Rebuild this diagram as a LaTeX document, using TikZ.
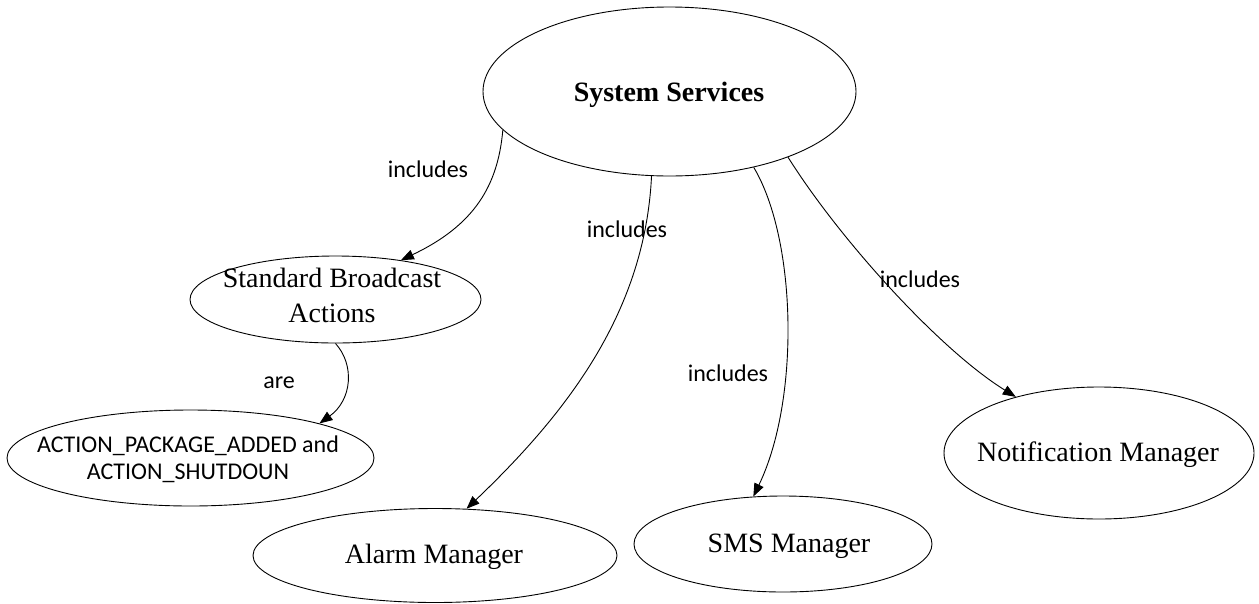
\documentclass[tikz,border=0pt]{standalone}
\usepackage{fontspec}
\setmainfont{Liberation Serif}
\newfontfamily\labelfont{Carlito}
\usetikzlibrary{shapes.geometric,arrows.meta}

\tikzset{
  oval/.style={draw, line width=0.9pt, ellipse, inner sep=0pt},
  title/.style={font=\fontsize{28}{35}\selectfont, inner sep=0pt, anchor=base, align=center},
  edgetext/.style={font=\labelfont\fontsize{24}{27}\selectfont, inner sep=0pt, anchor=base, align=center},
  link/.style={line width=0.9pt, -{Triangle[length=13pt,width=10pt]}},
}

\begin{document}
\begin{tikzpicture}[x=1pt,y=-1pt]
  \useasboundingbox (0,0) rectangle (1259,603);

  % ovals
  \node[oval, minimum width=373pt, minimum height=169pt] (sys)   at (669.5,91.5) {};
  \node[oval, minimum width=291pt, minimum height=87pt]  (sba)   at (335.5,299.5) {};
  \node[oval, minimum width=367pt, minimum height=96pt]  (act)   at (190.5,458) {};
  \node[oval, minimum width=364pt, minimum height=94pt]  (alarm) at (435,555.5) {};
  \node[oval, minimum width=298pt, minimum height=96pt]  (sms)   at (783,544) {};
  \node[oval, minimum width=310pt, minimum height=132pt] (notif) at (1099,453) {};

  % oval texts (base = baseline of the last line)
  \node[title, font=\bfseries\fontsize{28}{35}\selectfont] (sys-t) at (669,101) {System Services};
  \node[title] (sba-t)   at (332,322) {Standard Broadcast\\Actions};
  \node[edgetext] (act-t) at (188,479) {ACTION\_PACKAGE\_ADDED and\\ACTION\_SHUTDOUN};
  \node[title] (alarm-t) at (434,563) {Alarm Manager};
  \node[title] (sms-t)   at (789,552) {SMS Manager};
  \node[title] (notif-t) at (1098,461) {Notification Manager};

  % connectors
  \draw[link] (sys.193) .. controls (498,185) and (475,225) .. (sba.31);
  \draw[link] (sys.258.7) .. controls (645,310) and (570,410) .. (alarm.56.6);
  \draw[link] (sys.318) .. controls (797,240) and (800,400) .. (sms.122.6);
  \draw[link] (sys.331.6) .. controls (840,240) and (940,350) .. (notif.146.5);
  \draw[link] (sba.270) .. controls (355,365) and (352,400) .. (act.15.7);

  % connector labels
  \node[edgetext] (l-sba)   at (428,177) {includes};
  \node[edgetext] (l-alarm) at (627,237) {includes};
  \node[edgetext] (l-sms)   at (728,381) {includes};
  \node[edgetext] (l-notif) at (920,287) {includes};
  \node[edgetext] (l-act)   at (279,388) {are};
\end{tikzpicture}
\end{document}
